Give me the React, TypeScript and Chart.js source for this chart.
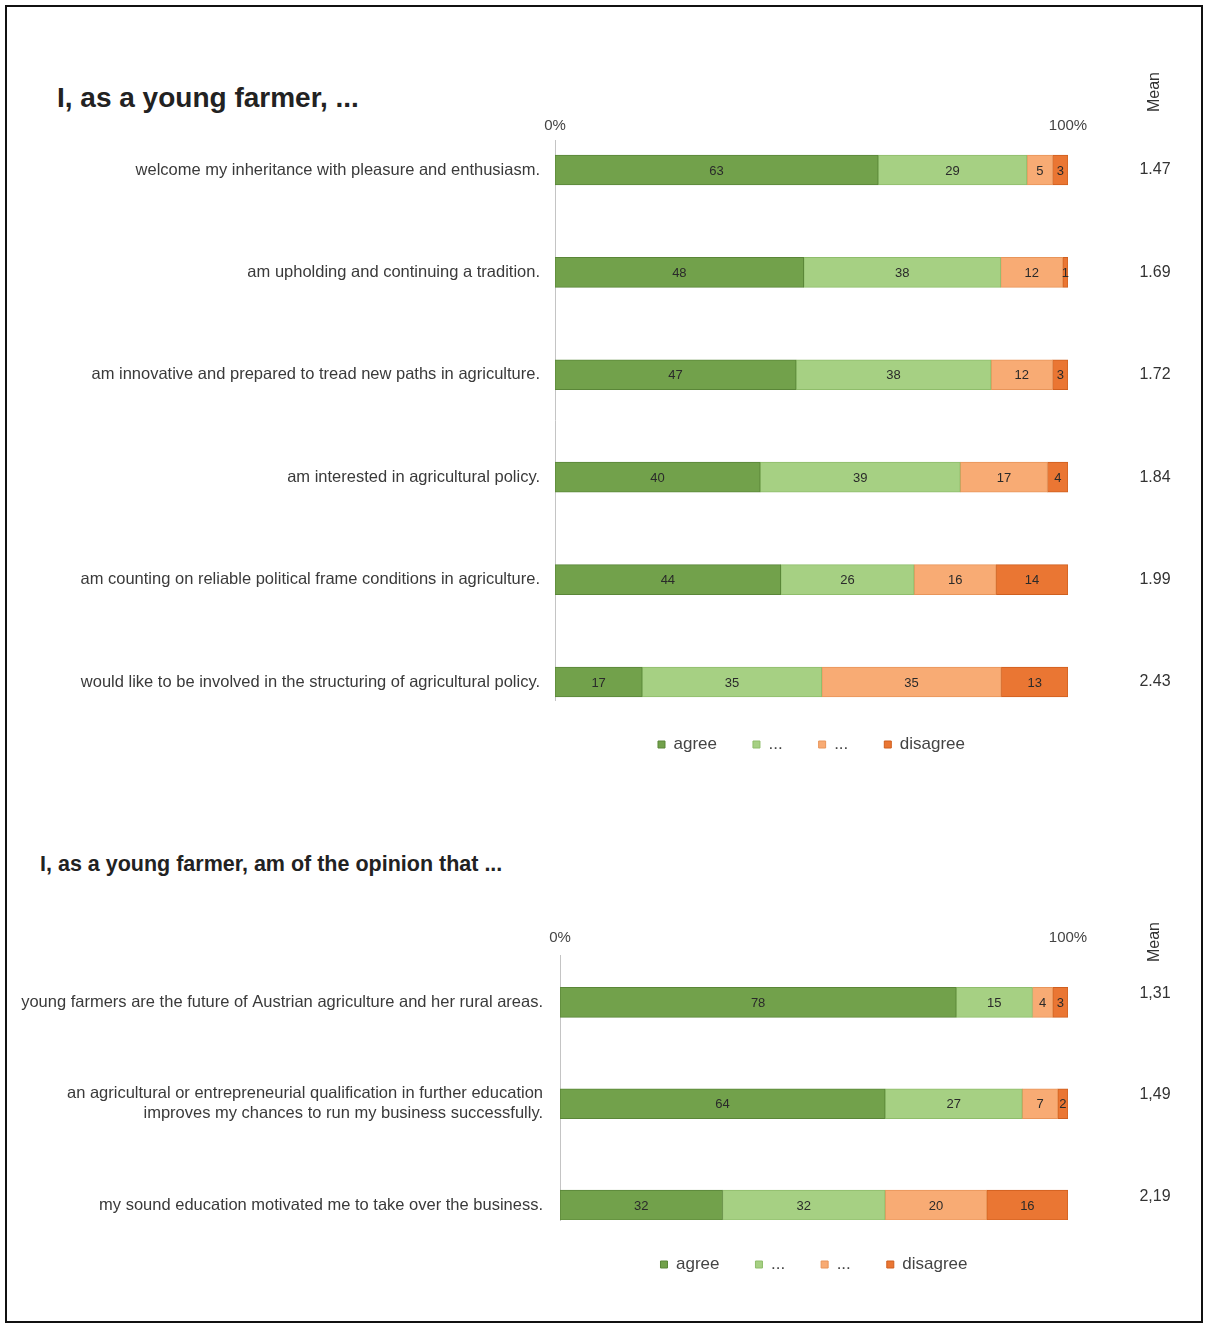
import React, { useEffect, useRef } from 'react';
import { Chart, registerables } from 'chart.js';

Chart.register(...registerables);

const FONT = '"Liberation Sans", Arial, sans-serif';

// ---------- data ----------
const seriesNames = ['agree', '...', '...', 'disagree'];
const seriesColors = ['#72a14b', '#a6d083', '#f8ab74', '#ea7633'];
const seriesBorders = ['#5a8638', '#8fbd6b', '#e8955a', '#cf5f1f'];

const topTitle = 'I, as a young farmer, ...';
const topCategories = [
  'welcome my inheritance with pleasure and enthusiasm.',
  'am upholding and continuing a tradition.',
  'am innovative and prepared to tread new paths in agriculture.',
  'am interested in agricultural policy.',
  'am counting on reliable political frame conditions in agriculture.',
  'would like to be involved in the structuring of agricultural policy.',
];
const topAgree = [63, 48, 47, 40, 44, 17];
const topRatherAgree = [29, 38, 38, 39, 26, 35];
const topRatherDisagree = [5, 12, 12, 17, 16, 35];
const topDisagree = [3, 1, 3, 4, 14, 13];
const topMeans = ['1.47', '1.69', '1.72', '1.84', '1.99', '2.43'];

const bottomTitle = 'I, as a young farmer, am of the opinion that ...';
const bottomCategories: (string | string[])[] = [
  'young farmers are the future of Austrian agriculture and her rural areas.',
  [
    'an agricultural or entrepreneurial qualification in further education',
    'improves my chances to run my business successfully.',
  ],
  'my sound education motivated me to take over the business.',
];
const bottomAgree = [78, 64, 32];
const bottomRatherAgree = [15, 27, 32];
const bottomRatherDisagree = [4, 7, 20];
const bottomDisagree = [3, 2, 16];
const bottomMeans = ['1,31', '1,49', '2,19'];

const xTickValues = [0, 100];
const meanHeader = 'Mean';

// ---------- plugins ----------
const valueLabels = {
  id: 'valueLabels',
  afterDatasetsDraw(chart: any) {
    const { ctx } = chart;
    ctx.save();
    ctx.font = `13px ${FONT}`;
    ctx.fillStyle = '#2a2a2a';
    ctx.textAlign = 'center';
    ctx.textBaseline = 'middle';
    chart.data.datasets.forEach((ds: any, di: number) => {
      const meta = chart.getDatasetMeta(di);
      meta.data.forEach((bar: any, i: number) => {
        const { x, base, y } = bar.getProps(['x', 'base', 'y'], true);
        ctx.fillText(String(ds.rawValues[i]), (x + base) / 2, y + 1);
      });
    });
    ctx.restore();
  },
};

const meanColumn = {
  id: 'meanColumn',
  afterDraw(chart: any, _args: any, opts: any) {
    const { ctx } = chart;
    const y = chart.scales.y;
    ctx.save();
    ctx.font = `16px ${FONT}`;
    ctx.fillStyle = '#333';
    ctx.textAlign = 'center';
    ctx.textBaseline = 'middle';
    (opts.values as string[]).forEach((v, i) => {
      ctx.fillText(v, opts.x, y.getPixelForValue(i) + opts.dy);
    });
    ctx.translate(opts.x, opts.headerY);
    ctx.rotate(-Math.PI / 2);
    ctx.fillText(meanHeader, 0, 0);
    ctx.restore();
  },
};

type Geo = {
  yMin: number;
  yMax: number;
  axisWidth: number;
  labelPadding: number;
  xHeight: number;
  xPadding: number;
  meanHeaderY: number;
  meanDy: number;
};

function makeChart(
  canvas: HTMLCanvasElement,
  categories: (string | string[])[],
  series: number[][],
  means: string[],
  g: Geo
) {
  const totals = categories.map((_, i) => series.reduce((s, arr) => s + arr[i], 0));
  return new Chart(canvas, {
    type: 'bar',
    data: {
      datasets: series.map((vals, k) => ({
        label: seriesNames[k],
        data: vals.map((v, i) => ({ x: (v / totals[i]) * 100, y: i })),
        rawValues: vals,
        backgroundColor: seriesColors[k],
        borderColor: seriesBorders[k],
        borderWidth: 1,
        borderSkipped: false,
        barThickness: 30,
      })) as any,
    },
    options: {
      indexAxis: 'y',
      responsive: false,
      animation: false,
      devicePixelRatio: 1,
      events: [],
      layout: { padding: { left: 0, right: 140, top: 0, bottom: 0 } },
      scales: {
        x: {
          type: 'linear',
          position: 'top',
          min: 0,
          max: 100,
          stacked: true,
          afterBuildTicks: (scale: any) => {
            scale.ticks = xTickValues.map((v) => ({ value: v }));
          },
          afterFit: (scale: any) => {
            scale.height = g.xHeight;
          },
          ticks: {
            callback: (v: any) => `${v}%`,
            font: { family: FONT, size: 15 },
            color: '#444',
            padding: g.xPadding,
            maxRotation: 0,
            autoSkip: false,
          },
          grid: { display: false, drawTicks: false },
          border: { display: false },
        },
        y: {
          type: 'linear',
          reverse: true,
          stacked: true,
          offset: false,
          bounds: 'data',
          min: g.yMin,
          max: g.yMax,
          afterBuildTicks: (scale: any) => {
            scale.ticks = categories.map((_, i) => ({ value: i }));
          },
          afterFit: (scale: any) => {
            scale.width = g.axisWidth;
          },
          ticks: {
            callback: (v: any) => categories[v] as any,
            font: { family: FONT, size: 16.5 },
            color: '#3a3a3a',
            padding: g.labelPadding,
            autoSkip: false,
          },
          grid: { display: false, drawTicks: false, offset: false },
          border: { display: true, color: '#c4c4c4', width: 1 },
        },
      },
      plugins: {
        legend: {
          position: 'bottom',
          fullSize: false,
          align: 'center',
          labels: {
            boxWidth: 7,
            boxHeight: 7,
            padding: 36,
            font: { family: FONT, size: 17 },
            color: '#444',
          },
        },
        tooltip: { enabled: false },
        meanColumn: { values: means, x: 1155, dy: g.meanDy, headerY: g.meanHeaderY },
      } as any,
    },
    plugins: [valueLabels, meanColumn],
  });
}

const titleStyle: React.CSSProperties = {
  position: 'absolute',
  font: `700 28px ${FONT}`,
  lineHeight: '32px',
  color: '#222',
  whiteSpace: 'nowrap',
};

export default function App() {
  const topRef = useRef<HTMLCanvasElement>(null);
  const bottomRef = useRef<HTMLCanvasElement>(null);

  useEffect(() => {
    const c1 = makeChart(
      topRef.current!,
      topCategories,
      [topAgree, topRatherAgree, topRatherDisagree, topDisagree],
      topMeans,
      {
        yMin: -0.293,
        yMax: 5.176,
        axisWidth: 555,
        labelPadding: 15,
        xHeight: 80,
        xPadding: 5,
        meanHeaderY: 32,
        meanDy: 0,
      }
    );
    const c2 = makeChart(
      bottomRef.current!,
      bottomCategories,
      [bottomAgree, bottomRatherAgree, bottomRatherDisagree, bottomDisagree],
      bottomMeans,
      {
        yMin: -0.468,
        yMax: 2.147,
        axisWidth: 560,
        labelPadding: 17,
        xHeight: 75,
        xPadding: 8,
        meanHeaderY: 62,
        meanDy: -9,
      }
    );
    return () => {
      c1.destroy();
      c2.destroy();
    };
  }, []);

  return (
    <div
      style={{
        position: 'absolute',
        left: 0,
        top: 0,
        width: 1208,
        height: 1328,
        background: '#fff',
        overflow: 'hidden',
      }}
    >
      <div
        style={{
          position: 'absolute',
          left: 5,
          top: 5,
          width: 1194,
          height: 1314,
          border: '2px solid #111',
        }}
      />
      <div style={{ ...titleStyle, left: 57, top: 82 }}>{topTitle}</div>
      <canvas
        ref={topRef}
        width={1208}
        height={703}
        style={{ position: 'absolute', left: 0, top: 60, width: 1208, height: 703 }}
      />
      <div style={{ ...titleStyle, left: 40, top: 848, fontSize: 21.5 }}>{bottomTitle}</div>
      <canvas
        ref={bottomRef}
        width={1208}
        height={403}
        style={{ position: 'absolute', left: 0, top: 880, width: 1208, height: 403 }}
      />
    </div>
  );
}
